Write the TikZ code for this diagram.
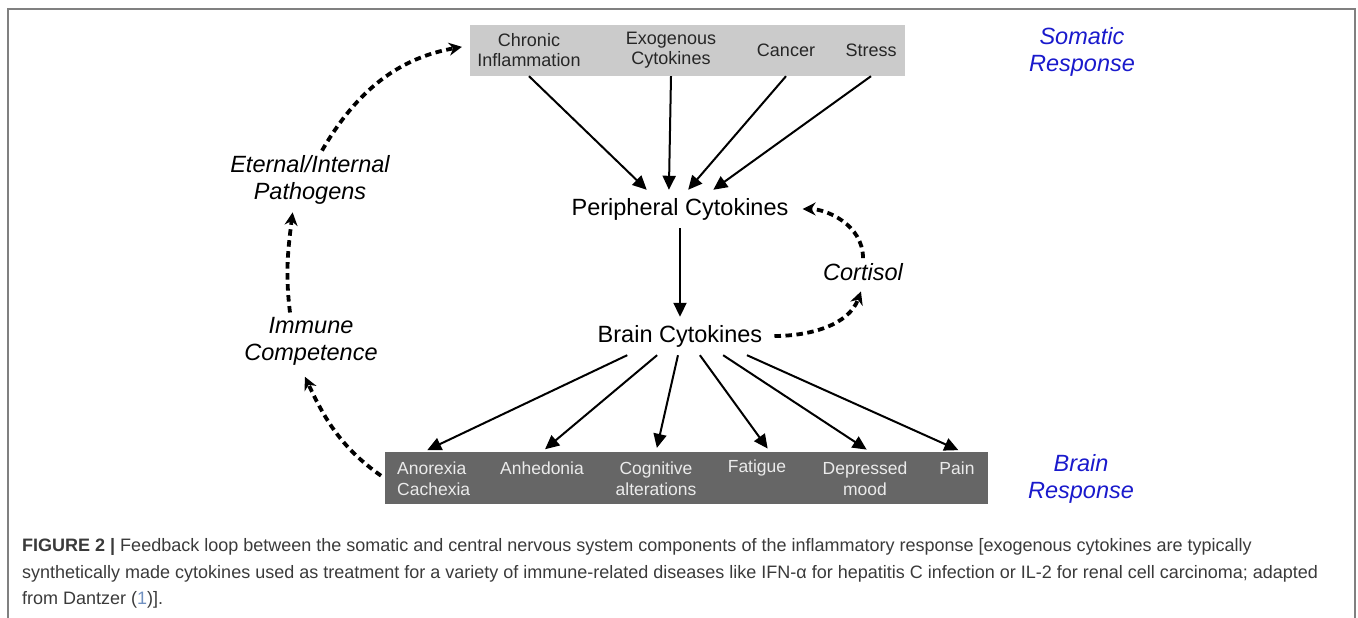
\documentclass[tikz,border=0pt]{standalone}
\usepackage{fontspec}
\setmainfont{Liberation Sans}
\newfontfamily\capfont[FakeStretch=1.0]{Liberation Sans}
\usetikzlibrary{arrows.meta}
\definecolor{boxgray}{HTML}{CBCBCB}
\definecolor{darkbox}{HTML}{666666}
\definecolor{respblue}{HTML}{1A1ACC}
\definecolor{capgray}{HTML}{3A3A3A}
\definecolor{linkblue}{HTML}{7090C0}

\begin{document}
\begin{tikzpicture}[x=1pt,y=1pt,>={Triangle[length=14pt,width=13pt]},
  item/.style={align=center,font=\fontsize{18}{20}\selectfont,text=black!85,inner sep=0pt},
  effect/.style={align=center,font=\fontsize{17.5}{21}\selectfont,text=white!92!black,inner sep=0pt},
  cyto/.style={font=\fontsize{23.5}{27}\selectfont,inner xsep=4pt,inner ysep=0pt,minimum height=38pt},
  mediator/.style={align=center,font=\fontsize{23.5}{26.5}\selectfont\itshape,inner sep=5pt},
  resp/.style={align=center,font=\fontsize{23.5}{27}\selectfont\itshape,text=respblue},
  captext/.style={anchor=base west,inner sep=0pt,font=\fontsize{18}{20}\capfont,text=capgray},
  feed/.style={->,line width=2pt},
  fback/.style={-{Stealth[length=13pt,width=13pt]},line width=3.8pt,dash pattern=on 6.5pt off 4.5pt}]
\useasboundingbox (0,0) rectangle (1358,618);
\draw[black!50,line width=1.5pt] (8,0) -- (8,609) -- (1355,609) -- (1355,0);

\node[fill=boxgray,minimum width=435pt,minimum height=51pt,inner sep=0pt] (topbox) at (687.5,567.5) {};
\node[item] (chronic) at (529,567.5) {Chronic\\Inflammation};
\node[item] (exo) at (671,567.5) {Exogenous\\Cytokines};
\node[item] (cancer) at (786,567.5) {Cancer};
\node[item] (stress) at (871,567.5) {Stress};
\node[resp] (somatic) at (1082,566.5) {Somatic\\Response};

\node[cyto] (peri) at (680,409) {Peripheral Cytokines};
\node[cyto] (brain) at (680,282) {Brain Cytokines};
\node[mediator] (cortisol) at (863,346) {Cortisol};
\node[mediator] (pathogens) at (310,438) {Eternal/Internal\\Pathogens};
\node[mediator] (immune) at (311,276.5) {Immune\\Competence};

\node[fill=darkbox,minimum width=603pt,minimum height=52pt,inner sep=0pt] (brainbox) at (686,140) {};
\node[effect,align=left,anchor=west] (anorexia) at (397,139.5) {Anorexia\\Cachexia};
\node[effect] (anhedonia) at (542,150) {Anhedonia};
\node[effect] (cognitive) at (656,139.5) {Cognitive\\alterations};
\node[effect] (fatigue) at (757,150) {Fatigue};
\node[effect] (depressed) at (865,139.5) {Depressed\\mood};
\node[effect] (pain) at (957,150) {Pain};
\node[resp] (brainresp) at (1081,139) {Brain\\Response};

\draw[feed] (chronic |- topbox.south) -- (peri.150);
\draw[feed] (exo |- topbox.south) -- (peri.120);
\draw[feed] (cancer |- topbox.south) -- (peri.67);
\draw[feed] (stress |- topbox.south) -- (peri.30);
\draw[feed] (peri) -- (brain);
\draw[feed,shorten >=4pt] (brain.200) -- ([xshift=-10pt]anorexia.north |- brainbox.north);
\draw[feed,shorten >=4pt] (brain.220) -- (anhedonia |- brainbox.north);
\draw[feed,shorten >=4pt] (brain.264) -- (cognitive |- brainbox.north);
\draw[feed,shorten >=4pt] (brain.316) -- ([xshift=13pt]fatigue.north |- brainbox.north);
\draw[feed,shorten >=4pt] (brain.336) -- ([xshift=5pt]depressed.north |- brainbox.north);
\draw[feed,shorten >=4pt] (brain.344) -- ([xshift=5pt]pain.north |- brainbox.north);

\draw[fback,shorten <=8pt,shorten >=6pt] (brain.east) to[out=0,in=-110] (cortisol.south);
\draw[fback,shorten >=10pt] (cortisol.north) to[out=90,in=0] (peri.east);
\draw[fback,shorten <=4pt,shorten >=7pt] (brainbox.west) to[out=145,in=-65] ([xshift=-9pt]immune.south);
\draw[fback,shorten >=3pt] ([xshift=-21pt]immune.north) to[out=97,in=-97] ([xshift=-17pt]pathogens.south);
\draw[fback,shorten >=8pt] ([xshift=12pt]pathogens.north) to[out=60,in=190] ([yshift=5pt]topbox.west);

\node[captext] (cap1) at (22,66) {\textbf{FIGURE 2 |} Feedback loop between the somatic and central nervous system components of the inflammatory response [exogenous cytokines are typically};
\node[captext] (cap2) at (22,39) {synthetically made cytokines used as treatment for a variety of immune-related diseases like IFN-α for hepatitis C infection or IL-2 for renal cell carcinoma; adapted};
\node[captext] (cap3) at (22,13) {from Dantzer ({\color{linkblue}1})].};
\end{tikzpicture}
\end{document}
